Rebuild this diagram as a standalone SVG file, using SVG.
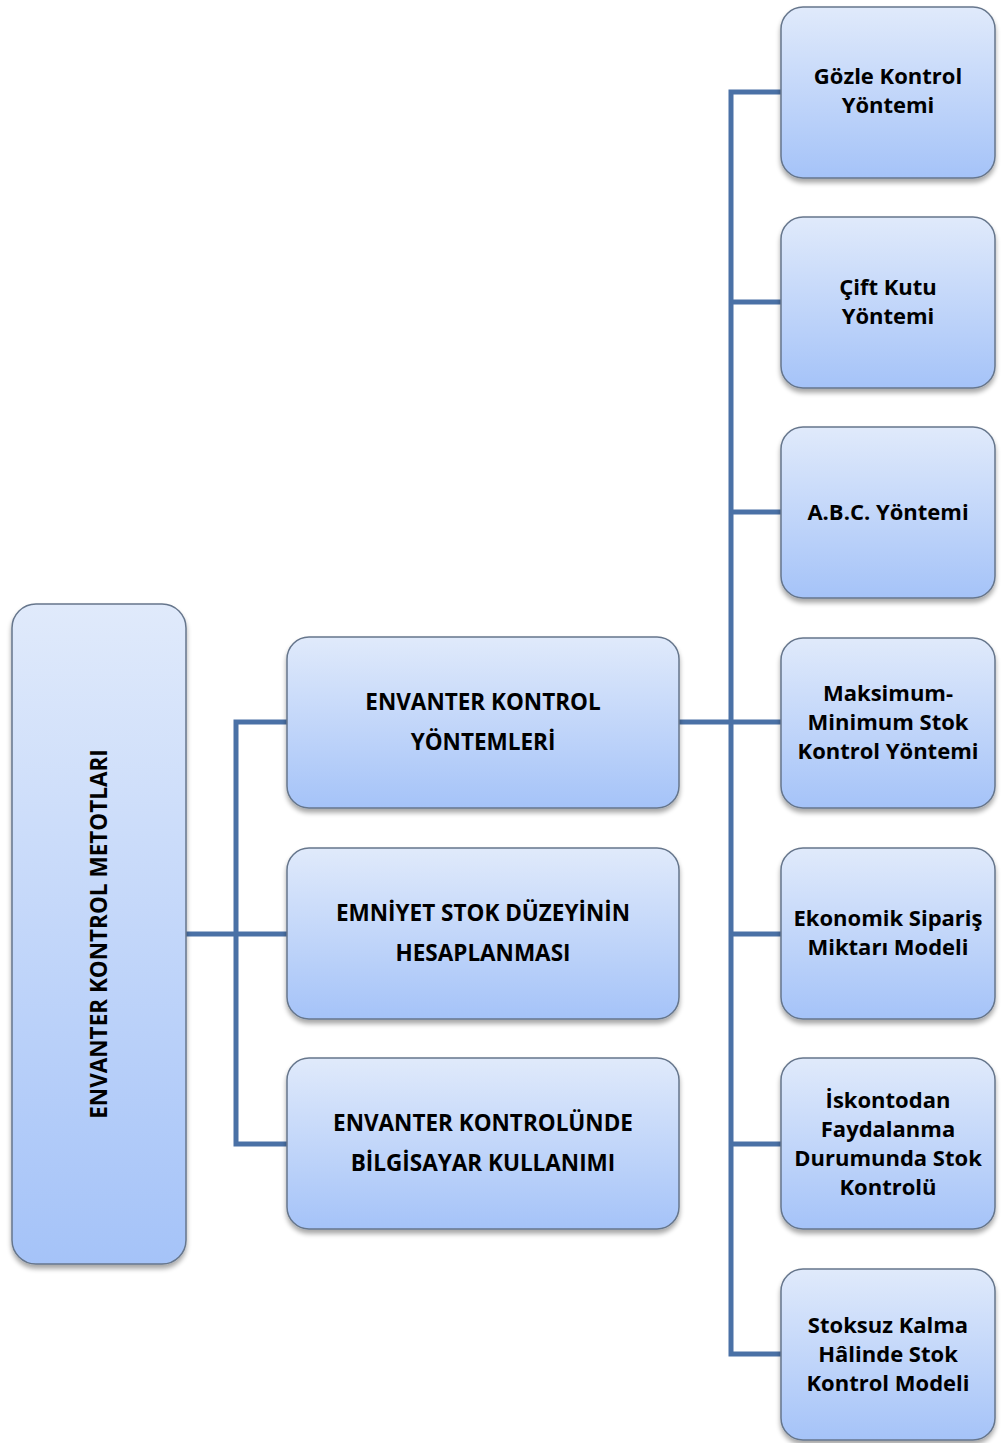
<svg xmlns="http://www.w3.org/2000/svg" width="1003" height="1443" viewBox="0 0 1003 1443">
<defs>
<linearGradient id="g" x1="0" y1="0" x2="0" y2="1">
<stop offset="0" stop-color="#e0eafb"/>
<stop offset="1" stop-color="#a5c3f8"/>
</linearGradient>
<filter id="sh" x="-10%" y="-10%" width="120%" height="125%">
<feGaussianBlur in="SourceAlpha" stdDeviation="2.5"/>
<feOffset dx="0" dy="4" result="b"/>
<feComponentTransfer><feFuncA type="linear" slope="0.35"/></feComponentTransfer>
<feMerge><feMergeNode/><feMergeNode in="SourceGraphic"/></feMerge>
</filter>
</defs>
<style>
.box{fill:url(#g);stroke:#66768c;stroke-width:1.5;filter:url(#sh)}
.t{font-family:"Open Sans","Lato","Liberation Sans",sans-serif;font-weight:bold;font-size:22px;fill:#000;text-anchor:middle}
.m{font-size:22.5px}
.c{fill:none;stroke:#4a71a6;stroke-width:5}
</style>
<g id="connectors">
<path class="c" d="M186,934 H287 M287,722 H236 V1144 H287"/>
<path class="c" d="M679,722 H781 M781,92 H731 V1354 H781 M731,302 H781 M731,512 H781 M731,934 H781 M731,1144 H781"/>
</g>
<g id="n0">
<rect class="box" x="12" y="604" width="174" height="660" rx="24"/>
<text class="t m" transform="translate(107,934) rotate(-90)">ENVANTER KONTROL METOTLARI</text>
</g>
<g id="m1">
<rect class="box" x="287" y="637" width="392" height="171" rx="22"/>
<text class="t m" x="483" y="710">ENVANTER KONTROL</text>
<text class="t m" x="483" y="750">YÖNTEMLERİ</text>
</g>
<g id="m2">
<rect class="box" x="287" y="848" width="392" height="171" rx="22"/>
<text class="t m" x="483" y="921">EMNİYET STOK DÜZEYİNİN</text>
<text class="t m" x="483" y="961">HESAPLANMASI</text>
</g>
<g id="m3">
<rect class="box" x="287" y="1058" width="392" height="171" rx="22"/>
<text class="t m" x="483" y="1131">ENVANTER KONTROLÜNDE</text>
<text class="t m" x="483" y="1171">BİLGİSAYAR KULLANIMI</text>
</g>
<g id="r1">
<rect class="box" x="781" y="7" width="214" height="171" rx="22"/>
<text class="t" x="888" y="84">Gözle Kontrol</text>
<text class="t" x="888" y="113">Yöntemi</text>
</g>
<g id="r2">
<rect class="box" x="781" y="217" width="214" height="171" rx="22"/>
<text class="t" x="888" y="295">Çift Kutu</text>
<text class="t" x="888" y="324">Yöntemi</text>
</g>
<g id="r3">
<rect class="box" x="781" y="427" width="214" height="171" rx="22"/>
<text class="t" x="888" y="520">A.B.C. Yöntemi</text>
</g>
<g id="r4">
<rect class="box" x="781" y="638" width="214" height="170" rx="22"/>
<text class="t" x="888" y="701">Maksimum-</text>
<text class="t" x="888" y="730">Minimum Stok</text>
<text class="t" x="888" y="759">Kontrol Yöntemi</text>
</g>
<g id="r5">
<rect class="box" x="781" y="848" width="214" height="171" rx="22"/>
<text class="t" x="888" y="926">Ekonomik Sipariş</text>
<text class="t" x="888" y="955">Miktarı Modeli</text>
</g>
<g id="r6">
<rect class="box" x="781" y="1058" width="214" height="171" rx="22"/>
<text class="t" x="888" y="1108">İskontodan</text>
<text class="t" x="888" y="1137">Faydalanma</text>
<text class="t" x="888" y="1166">Durumunda Stok</text>
<text class="t" x="888" y="1195">Kontrolü</text>
</g>
<g id="r7">
<rect class="box" x="781" y="1269" width="214" height="171" rx="22"/>
<text class="t" x="888" y="1333">Stoksuz Kalma</text>
<text class="t" x="888" y="1362">Hâlinde Stok</text>
<text class="t" x="888" y="1391">Kontrol Modeli</text>
</g>
</svg>
